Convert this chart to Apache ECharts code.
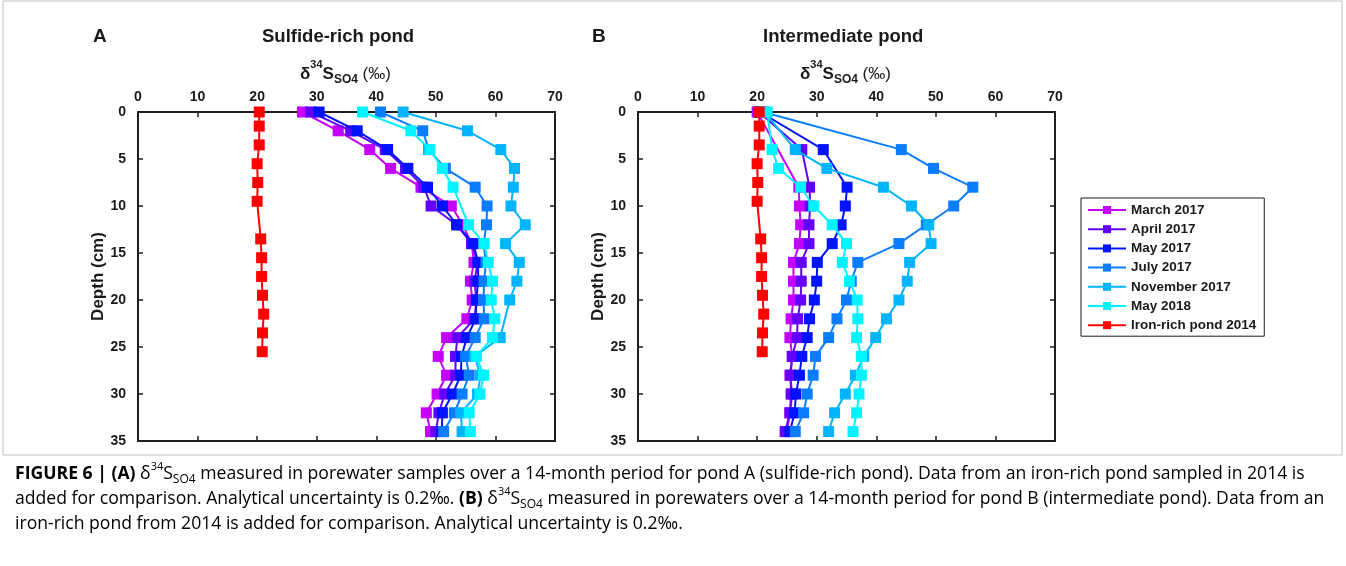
<!DOCTYPE html>
<html>
<head>
<meta charset="utf-8">
<script src="https://cdn.jsdelivr.net/npm/echarts@6/dist/echarts.min.js"></script>
<style>
html,body{margin:0;padding:0;background:#fff;}
#chart{width:1346px;height:566px;}
</style>
</head>
<body>
<div id="chart"></div>
<script>
// ---------- DATA ----------
const seriesNames = ['March 2017','April 2017','May 2017','July 2017','November 2017','May 2018','Iron-rich pond 2014'];
const xTicks = [0,10,20,30,40,50,60,70];
const yTicks = [0,5,10,15,20,25,30,35];

// Iron-rich pond 2014 (same in both panels)
const ironDepth = [0,1.5,3.5,5.5,7.5,9.5,13.5,15.5,17.5,19.5,21.5,23.5,25.5];
const ironVal   = [20.35,20.35,20.35,20.0,20.1,20.0,20.6,20.75,20.75,20.9,21.1,20.9,20.85];

// Panel A: sulfide-rich pond
const aDepth = [0,2,4,6,8,10,12,14,16,18,20,22,24,26,28,30,32,34];
const aMar17 = [27.6,33.6,38.9,42.4,47.5,52.6,54.5,56.0,56.4,55.8,56.1,55.2,51.8,50.4,51.8,50.2,48.4,49.1];
const aApr17 = [29.0,35.7,41.5,44.9,48.0,49.2,53.5,56.0,57.0,56.5,56.8,56.5,53.6,53.3,53.3,51.5,50.5,50.0];
const aMay17 = [30.4,36.8,41.9,45.3,48.6,51.1,53.5,56.3,57.1,57.1,56.8,56.7,55.2,54.3,54.2,52.8,51.1,51.0];
const aJul17 = [40.7,47.8,48.8,51.6,56.6,58.6,58.5,58.0,58.4,58.1,58.0,58.1,56.6,55.0,55.6,54.4,53.1,51.3];
const aNov17Depth = [0,2,4,6,8,10,12,14,16,18,20,24,26,28,30,32,34];
const aNov17 = [44.5,55.3,60.9,63.2,63.0,62.6,65.0,61.7,64.0,63.6,62.4,60.8,56.5,57.5,57.0,54.2,54.4];
const aMay18Depth = [0,2,4,6,8,12,14,16,18,20,22,24,26,28,30,32,34];
const aMay18 = [37.7,45.8,49.0,51.1,52.9,55.5,58.1,58.8,59.5,59.3,59.9,59.5,56.8,58.0,57.4,55.6,55.8];

// Panel B: intermediate pond
const bMar17Depth = [0,8,10,12,14,16,18,20,22,24,26,28,30,32,34];
const bMar17 = [20.0,27.0,27.1,27.3,27.1,26.1,26.1,26.1,25.7,25.5,25.9,25.5,25.9,25.5,25.0];
const bApr17Depth = [0,4,8,10,12,14,16,18,20,22,24,26,28,30,32,34];
const bApr17 = [20.3,27.5,28.8,28.9,28.7,28.7,27.4,27.4,27.3,26.8,26.7,25.9,25.6,25.7,25.5,24.7];
const bMay17Depth = [0,4,8,10,12,14,16,18,20,22,24,26,28,30,32,34];
const bMay17 = [20.5,31.1,35.1,34.8,34.1,32.6,30.1,30.0,29.6,28.8,28.4,27.5,27.1,26.5,26.3,25.5];
const bDepth = [0,4,6,8,10,12,14,16,18,20,22,24,26,28,30,32,34];
const bJul17 = [21.0,44.2,49.6,56.2,53.0,48.4,43.8,36.9,35.8,35.0,33.4,32.0,29.8,29.4,28.4,27.8,26.4];
const bNov17 = [21.2,26.4,31.7,41.2,45.9,48.8,49.2,45.6,45.2,43.8,41.7,39.9,37.9,36.5,34.8,33.0,32.0];
const bMay18 = [21.7,22.5,23.6,27.3,29.5,32.6,35.0,34.3,35.5,36.8,36.9,36.7,37.5,37.5,37.1,36.7,36.1];

// ---------- STYLE ----------
const colors = ['#C400FF','#6400FF','#0012FF','#0A7CFF','#00B4FF','#00F4FF','#FF0000'];
const FONT = 'Liberation Sans';
const CAPFONT = 'Open Sans';
const AXC = '#1f1f1f';

function pairs(vals, depths){ return vals.map((v,i)=>[v, depths[i]]); }

const panelData = [
  [[aMar17,aDepth],[aApr17,aDepth],[aMay17,aDepth],[aJul17,aDepth],[aNov17,aNov17Depth],[aMay18,aMay18Depth],[ironVal,ironDepth]],
  [[bMar17,bMar17Depth],[bApr17,bApr17Depth],[bMay17,bMay17Depth],[bJul17,bDepth],[bNov17,bDepth],[bMay18,bDepth],[ironVal,ironDepth]]
];

const grids = [
  {left:138, top:112, width:417, height:329},
  {left:638, top:112, width:417, height:329}
];

const xAxes = [], yAxes = [];
grids.forEach((g,gi)=>{
  xAxes.push({gridIndex:gi, type:'value', position:'top', min:0, max:70, interval:10,
    axisLine:{show:true, onZero:false, lineStyle:{color:AXC, width:2}},
    axisTick:{show:true, inside:true, length:5, lineStyle:{color:AXC, width:1.5}},
    axisLabel:{show:true, margin:8, color:'#1a1a1a', fontFamily:FONT, fontWeight:'bold', fontSize:14},
    splitLine:{show:false}});
  xAxes.push({gridIndex:gi, type:'value', position:'bottom', min:0, max:70, interval:10,
    axisLine:{show:true, onZero:false, lineStyle:{color:AXC, width:2}},
    axisTick:{show:true, inside:true, length:5, lineStyle:{color:AXC, width:1.5}},
    axisLabel:{show:false}, splitLine:{show:false}});
  yAxes.push({gridIndex:gi, type:'value', position:'left', inverse:true, min:0, max:35, interval:5,
    name:'Depth (cm)', nameLocation:'middle', nameRotate:90, nameGap:29,
    nameTextStyle:{color:'#1a1a1a', fontFamily:FONT, fontWeight:'bold', fontSize:17},
    axisLine:{show:true, onZero:false, lineStyle:{color:AXC, width:2}},
    axisTick:{show:true, inside:true, length:5, lineStyle:{color:AXC, width:1.5}},
    axisLabel:{show:true, margin:12, color:'#1a1a1a', fontFamily:FONT, fontWeight:'bold', fontSize:14},
    splitLine:{show:false}});
  yAxes.push({gridIndex:gi, type:'value', position:'right', inverse:true, min:0, max:35, interval:5,
    axisLine:{show:true, onZero:false, lineStyle:{color:AXC, width:2}},
    axisTick:{show:true, inside:true, length:5, lineStyle:{color:AXC, width:1.5}},
    axisLabel:{show:false}, splitLine:{show:false}});
});

const series = [];
panelData.forEach((pd,pi)=>{
  pd.forEach((sd,si)=>{
    series.push({
      name: seriesNames[si], type:'line',
      xAxisIndex: pi*2, yAxisIndex: pi*2,
      data: pairs(sd[0], sd[1]),
      symbol:'rect', symbolSize:11, showSymbol:true,
      lineStyle:{color:colors[si], width:2},
      itemStyle:{color:colors[si], borderWidth:0},
      animation:false, silent:true, z: 2+si
    });
  });
});

const richLabel = {
  b:{fontFamily:FONT, fontWeight:'bold', fontSize:17, color:'#1a1a1a', lineHeight:24, verticalAlign:'bottom'},
  sup:{fontFamily:FONT, fontWeight:'bold', fontSize:11, color:'#1a1a1a', lineHeight:24, verticalAlign:'top'},
  sub:{fontFamily:FONT, fontWeight:'bold', fontSize:12, color:'#1a1a1a', lineHeight:24, verticalAlign:'bottom', padding:[0,0,-3,0]},
  p:{fontFamily:FONT, fontWeight:'normal', fontSize:17, color:'#1a1a1a', lineHeight:24, verticalAlign:'bottom'}
};

function isoLabel(cx){
  return {type:'text', left:cx-46, top:59, style:{
    text:'{b|δ}{sup|34}{b|S}{sub|SO4}{p| (‰)}', rich:richLabel, fill:'#1a1a1a'}};
}

const capRich = {
  n:{fontFamily:CAPFONT, fontSize:17.6, color:'#222', lineHeight:25},
  bd:{fontFamily:CAPFONT, fontSize:17.6, color:'#222', fontWeight:'bold', lineHeight:25},
  sp:{fontFamily:CAPFONT, fontSize:11, color:'#222', lineHeight:25, verticalAlign:'top', padding:[0,0,4,0]},
  sb:{fontFamily:CAPFONT, fontSize:12, color:'#222', lineHeight:25, verticalAlign:'bottom', padding:[4,0,0,0]}
};
const capLines = [
  '{bd|FIGURE 6 | (A)}{n| δ}{sp|34}{n|S}{sb|SO4}{n| measured in porewater samples over a 14-month period for pond A (sulfide-rich pond). Data from an iron-rich pond sampled in 2014 is}',
  '{n|added for comparison. Analytical uncertainty is 0.2‰. }{bd|(B)}{n| δ}{sp|34}{n|S}{sb|SO4}{n| measured in porewaters over a 14-month period for pond B (intermediate pond). Data from an}',
  '{n|iron-rich pond from 2014 is added for comparison. Analytical uncertainty is 0.2‰.}'
];
const capTops = [461, 486, 515];

const graphics = [
  {type:'rect', shape:{x:3, y:1, width:1339, height:454}, style:{fill:'none', stroke:'#bdbdbd', lineWidth:1}},
  {type:'text', left:93, top:27, style:{text:'A', font:'bold 19px "Liberation Sans"', fill:'#1a1a1a'}},
  {type:'text', left:592, top:27, style:{text:'B', font:'bold 19px "Liberation Sans"', fill:'#1a1a1a'}},
  {type:'text', left:262, top:27, style:{text:'Sulfide-rich pond', font:'bold 18.5px "Liberation Sans"', fill:'#1a1a1a'}},
  {type:'text', left:763, top:27, style:{text:'Intermediate pond', font:'bold 18.5px "Liberation Sans"', fill:'#1a1a1a'}},
  isoLabel(346),
  isoLabel(846)
];
capLines.forEach((t,i)=>{
  graphics.push({type:'text', left:15, top:capTops[i], style:{text:t, rich:capRich}});
});

const chart = echarts.init(document.getElementById('chart'), null, {renderer:'canvas'});
chart.setOption({
  animation:false,
  backgroundColor:'#fff',
  grid: grids,
  xAxis: xAxes,
  yAxis: yAxes,
  legend:{
    data: seriesNames, orient:'vertical', left:1081, top:198,
    backgroundColor:'#fff', borderColor:'#1a1a1a', borderWidth:1, borderRadius:0,
    padding:[5,8,4,6], itemWidth:38, itemHeight:10, itemGap:5.2,
    textStyle:{fontFamily:FONT, fontWeight:'bold', fontSize:13.5, color:'#1a1a1a'}
  },
  graphic: graphics,
  series: series
});
</script>
</body>
</html>
